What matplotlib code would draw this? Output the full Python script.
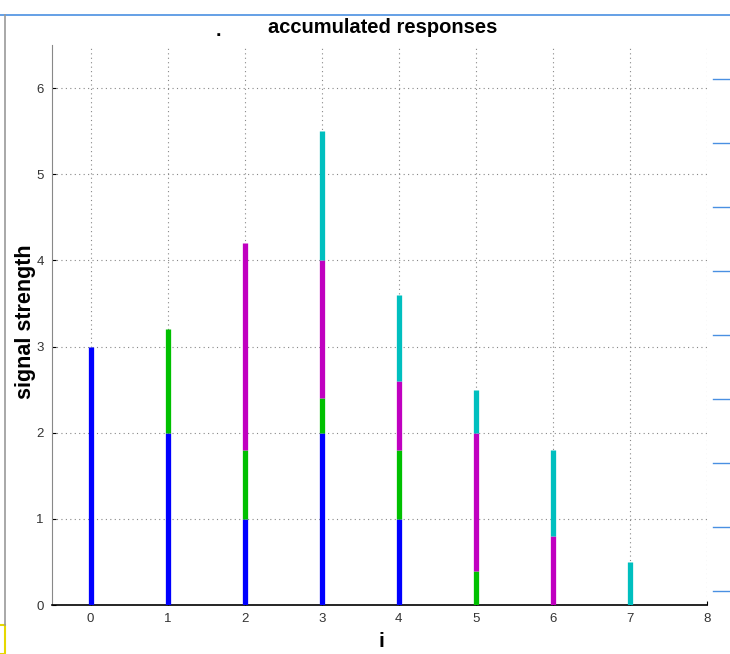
import numpy as np
import matplotlib
matplotlib.use('Agg')
import matplotlib.pyplot as plt
from matplotlib.lines import Line2D
from matplotlib.patches import Rectangle

plt.rcParams['font.family'] = ['Liberation Sans', 'DejaVu Sans']

# stacked response components per index
idx = [0, 1, 2, 3, 4, 5, 6, 7]
blue = [3.0, 2.0, 1.0, 2.0, 1.0, 0.0, 0.0, 0.0]
green = [0.0, 1.2, 0.8, 0.4, 0.8, 0.4, 0.0, 0.0]
magenta = [0.0, 0.0, 2.4, 1.6, 0.8, 1.6, 0.8, 0.0]
cyan = [0.0, 0.0, 0.0, 1.5, 1.0, 0.5, 1.0, 0.5]

series = [blue, green, magenta, cyan]
colors = ['#0000ff', '#00c000', '#c000c0', '#00bfbf']

fig = plt.figure(figsize=(7.3, 6.54), dpi=100)
ax = fig.add_axes([52/730, 1-605/654, (707-52)/730, (605-45)/654])

base = np.zeros(len(idx))
for vals, c in zip(series, colors):
    vals = np.array(vals)
    m = vals > 0
    ax.vlines(np.array(idx)[m], base[m], base[m] + vals[m], colors=c, linewidth=3.8, zorder=3)
    base = base + vals

ax.set_xlim(-0.5, 8)
ax.set_ylim(0, 6.5)
ax.set_xticks(range(0, 9))
ax.set_yticks(range(0, 7))
ax.grid(True, linestyle=(0, (1, 3)), color='#888888', linewidth=0.8)
ax.tick_params(direction='in', length=3, labelsize=9.5, pad=6, labelcolor='#333333')
ax.spines['top'].set_visible(False)
ax.spines['right'].set_visible(False)
ax.spines['left'].set_color('#888888')
ax.spines['bottom'].set_color('black')
ax.spines['bottom'].set_linewidth(1.2)

fig.text(383/730, 1-33/654, 'accumulated responses', fontsize=14.5, fontweight='bold',
         ha='center', va='baseline')
ax.set_xlabel('i', fontsize=15, fontweight='bold')
ax.xaxis.set_label_coords((381-52)/655, -(632-605)/560)
ax.set_ylabel('signal strength', fontsize=15.5, fontweight='bold')
ax.yaxis.set_label_coords(-(52-36)/655, (605-322)/560)

# window frame bits around the plot
fig.add_artist(Line2D([0, 1], [1-15/654, 1-15/654], color='#4a90e2', linewidth=1.2))
fig.add_artist(Line2D([5/730, 5/730], [1-625/654, 1-15/654], color='#999999', linewidth=1.2))
for yy in [79, 143, 207, 271, 335, 399, 463, 527, 591]:
    fig.add_artist(Line2D([713/730, 730/730], [1-yy/654, 1-yy/654], color='#4a90e2', linewidth=1.0))
fig.add_artist(Rectangle((-2/730, 0), 7/730, 29/654, transform=fig.transFigure,
                         fill=False, edgecolor='#e6d800', linewidth=1.5))
fig.text(218/730, 1-36/654, '.', fontsize=14, fontweight='bold', ha='center', va='baseline')

fig.savefig('out.png', dpi=100)
